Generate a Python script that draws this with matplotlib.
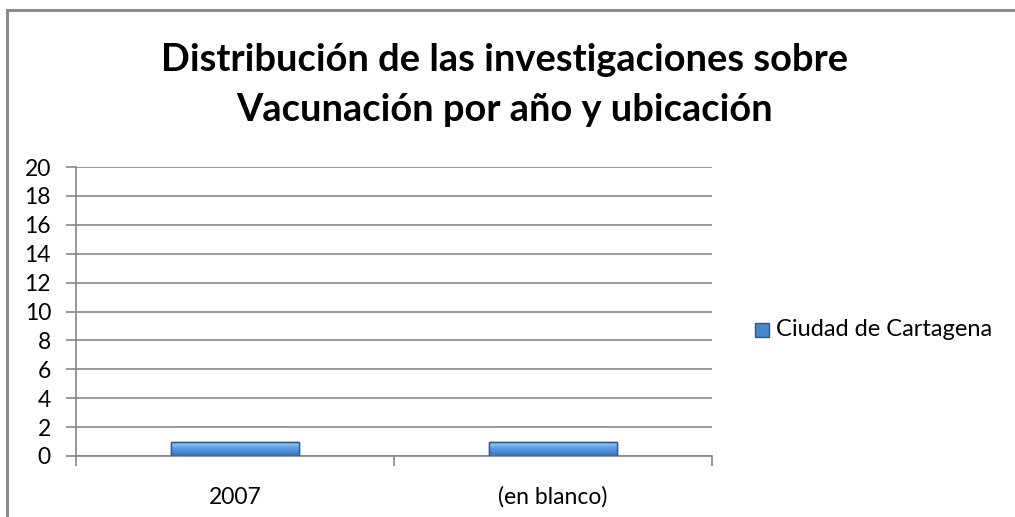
import numpy as np
import matplotlib.pyplot as plt
from matplotlib.patches import Rectangle
from matplotlib.colors import LinearSegmentedColormap

plt.rcParams['font.family'] = ['Lato', 'DejaVu Sans']

categorias = ['2007', '(en blanco)']
valores = [1, 1]
serie = 'Ciudad de Cartagena'
titulo = 'Distribución de las investigaciones sobre\nVacunación por año y ubicación'

W, H = 1015, 517
fig = plt.figure(figsize=(W / 100, H / 100), dpi=100)

# marco del grafico
fig.patches.append(Rectangle((7 / W, -0.1), 1.2, (H - 10) / H + 0.1, transform=fig.transFigure,
                             fill=False, edgecolor='#8c8c8c', linewidth=2.2))

ax = fig.add_axes([76 / W, 1 - 456 / H, (712 - 76) / W, (456 - 167) / H])

x = np.arange(len(categorias))
barras = ax.bar(x, valores, width=0.4, color='#4f81bd', edgecolor='#3a6aa3', linewidth=1, zorder=3)

# degradado de las barras (claro arriba, mas oscuro abajo)
cmap = LinearSegmentedColormap.from_list(
    'azul', [(0, '#3d72bb'), (0.2, '#8cc2f6'), (0.45, '#5e9ee6'), (1, '#3a72c0')])
for b in barras:
    x0, y0 = b.get_x(), b.get_y()
    w, h = b.get_width(), b.get_height()
    im = ax.imshow(np.linspace(0, 1, 50).reshape(-1, 1), cmap=cmap, aspect='auto',
                   extent=(x0, x0 + w, y0, y0 + h), origin='upper', zorder=4)
    im.set_clip_path(b)
    ax.add_patch(Rectangle((x0, y0), w, h, fill=False, edgecolor='#2d5a8e', linewidth=1, zorder=5))

ax.set_xlim(-0.5, len(categorias) - 0.5)
ax.set_ylim(0, 20)
ax.set_yticks(range(0, 21, 2))
ax.set_xticks(x)
ax.set_xticklabels(categorias)
ax.set_xticks(np.arange(-0.5, len(categorias), 1), minor=True)
ax.tick_params(axis='x', which='major', length=0, pad=22, labelsize=16.5)
ax.tick_params(axis='x', which='minor', length=7, width=1.2, color='#868686', direction='out')
ax.tick_params(axis='y', length=7, width=1.2, color='#868686', labelsize=16.5, pad=11)
ax.grid(axis='y', color='#868686', linewidth=1.2, zorder=0)
for s in ['top', 'right']:
    ax.spines[s].set_visible(False)
for s in ['left', 'bottom']:
    ax.spines[s].set_color('#868686')
    ax.spines[s].set_linewidth(1.2)
ax.set_xlim(-0.5, len(categorias) - 0.5)

fig.text(505 / W, 1 - 85 / H, titulo, ha='center', va='center', fontsize=27.4,
         fontweight='bold', linespacing=1.55)

# leyenda
fig.patches.append(Rectangle((755 / W, 1 - 337 / H), 14 / W, 14 / H, transform=fig.transFigure,
                             facecolor='#4a86d0', edgecolor='#2d5a8e', linewidth=1))
fig.text(776 / W, 1 - 330 / H, serie, ha='left', va='center', fontsize=17)

fig.savefig('out.png', dpi=100)
